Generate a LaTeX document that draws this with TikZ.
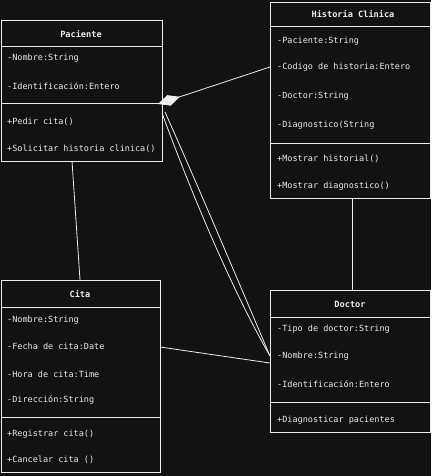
\documentclass[tikz,border=0pt]{standalone}
\usepackage{fontspec}
\setmainfont{DejaVu Sans Mono}
\usetikzlibrary{arrows.meta}
\definecolor{canvas}{HTML}{121212}
\definecolor{ink}{HTML}{EDEDED}
\begin{document}
\begin{tikzpicture}[x=1pt,y=-1pt,
  classbox/.style={draw=ink, line width=1pt, rectangle, inner sep=0pt, anchor=north west},
  divider/.style={draw=ink, line width=1pt},
  title/.style={text=ink, font=\fontsize{8.6}{10}\selectfont\bfseries, inner sep=0pt},
  member/.style={text=ink, font=\fontsize{8.5}{10}\selectfont, anchor=west, inner sep=0pt},
  link/.style={draw=ink, line width=0.8pt}]
\fill[canvas] (0,0) rectangle (431,476);
\useasboundingbox (0,0) rectangle (431,476);

% Paciente
\node[classbox, minimum width=161pt, minimum height=141pt] (pac) at (1,20) {};
\draw[divider] (1,47) -- (162,47);
\draw[divider] (1,104) -- (162,104);
\node[title] (pacT) at (81,34) {Paciente};
\node[member] (pac1) at (7,58) {-Nombre:String};
\node[member] (pac2) at (7,86) {-Identificación:Entero};
\node[member] (pac3) at (7,122) {+Pedir cita()};
\node[member] (pac4) at (7,149) {+Solicitar historia clinica()};

% Historia Clinica
\node[classbox, minimum width=160pt, minimum height=196pt] (his) at (270,2) {};
\draw[divider] (270,27) -- (430,27);
\draw[divider] (270,143) -- (430,143);
\node[title] (hisT) at (353,14) {Historia Clinica};
\node[member] (his1) at (277,41) {-Paciente:String};
\node[member] (his2) at (277,67) {-Codigo de historia:Entero};
\node[member] (his3) at (277,96) {-Doctor:String};
\node[member] (his4) at (277,125) {-Diagnostico(String};
\node[member] (his5) at (277,159) {+Mostrar historial()};
\node[member] (his6) at (277,186) {+Mostrar diagnostico()};

% Cita
\node[classbox, minimum width=159pt, minimum height=192pt] (cit) at (1,280) {};
\draw[divider] (1,307) -- (160,307);
\draw[divider] (1,417) -- (160,417);
\node[title] (citT) at (80,294) {Cita};
\node[member] (cit1) at (7,320) {-Nombre:String};
\node[member] (cit2) at (7,346) {-Fecha de cita:Date};
\node[member] (cit3) at (7,374) {-Hora de cita:Time};
\node[member] (cit4) at (7,400) {-Dirección:String};
\node[member] (cit5) at (7,434) {+Registrar cita()};
\node[member] (cit6) at (7,460) {+Cancelar cita ()};

% Doctor
\node[classbox, minimum width=160pt, minimum height=142pt] (doc) at (270,290) {};
\draw[divider] (270,317) -- (430,317);
\draw[divider] (270,402) -- (430,402);
\node[title] (docT) at (350,304) {Doctor};
\node[member] (doc1) at (277,329) {-Tipo de doctor:String};
\node[member] (doc2) at (277,356) {-Nombre:String};
\node[member] (doc3) at (277,384) {-Identificación:Entero};
\node[member] (doc4) at (277,420) {+Diagnosticar pacientes};

% attachment points on the class borders
\coordinate (pacDiamond) at (158,104);
\coordinate (pacLow1) at (162,113);
\coordinate (pacLow2) at (165,112);
\coordinate (pacBottom) at (72,161);
\coordinate (hisLeft) at (270,67);
\coordinate (hisBottom) at (352,198);
\coordinate (citTop) at (80,280);
\coordinate (citRight) at (160,347);
\coordinate (docLeft) at (270,356);
\coordinate (docLeft2) at (270,363);
\coordinate (docTop) at (352,290);

% associations
\draw[link, {Diamond[width=11pt,length=23pt,fill=ink]}-] (pacDiamond) -- (hisLeft);
\draw[link] (pacLow1) .. controls (192,195) and (232,290) .. (docLeft);
\draw[link] (pacLow2) .. controls (202,195) and (242,290) .. (docLeft);
\draw[link] (pacBottom) -- (citTop);
\draw[link] (citRight) -- (docLeft2);
\draw[link] (hisBottom) -- (docTop);
\end{tikzpicture}
\end{document}
